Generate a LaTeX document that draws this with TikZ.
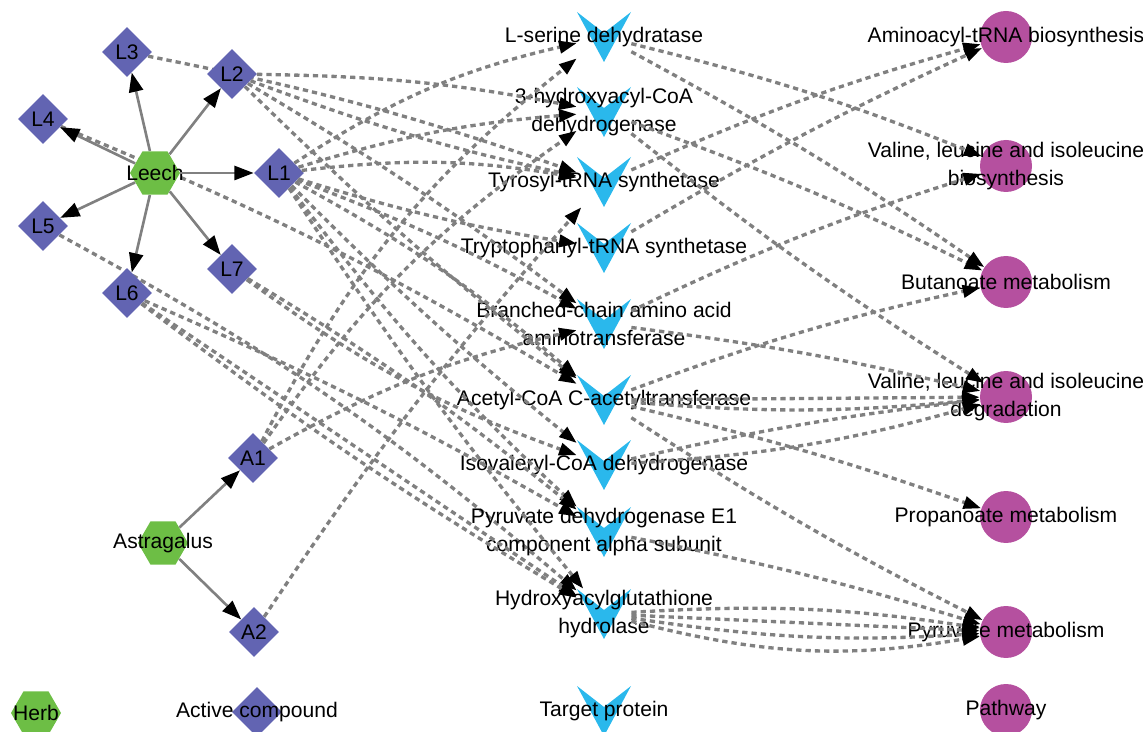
\documentclass[tikz,border=0pt]{standalone}
\usepackage{fontspec}
\setmainfont{Liberation Sans}
\usetikzlibrary{arrows.meta, calc, shapes.geometric, backgrounds}
\definecolor{herbgreen}{HTML}{6DBE45}
\definecolor{cmpblue}{HTML}{6264B2}
\definecolor{tgtcyan}{HTML}{2AB8EC}
\definecolor{pathmag}{HTML}{B5509F}
\definecolor{edgegray}{HTML}{808080}

\begin{document}
\begin{tikzpicture}[x=0.02cm, y=-0.02cm,
    font=\fontsize{12}{16}\selectfont,
    herb/.style={regular polygon, regular polygon sides=6, fill=herbgreen,
                 minimum size=1cm, inner sep=0pt},
    compound/.style={diamond, fill=cmpblue, minimum width=1cm,
                     minimum height=1cm, inner sep=0pt},
    target/.style={rectangle, minimum width=1.08cm, minimum height=1cm,
                   inner sep=0pt,
                   path picture={\fill[tgtcyan] (path picture bounding box.north west)
                     -- ($(path picture bounding box.north)!0.42!(path picture bounding box.south)$)
                     -- (path picture bounding box.north east)
                     -- (path picture bounding box.south) -- cycle;}},
    pathway/.style={circle, fill=pathmag, minimum size=1.04cm, inner sep=0pt},
    has/.style={draw=edgegray, line width=1.5pt,
                -{Triangle[length=11pt,width=8pt,color=black]}},
    hits/.style={draw=edgegray, line width=1.9pt, dash pattern=on 3pt off 2.3pt,
                 -{Triangle[length=10pt,width=7pt,color=black]}}
  ]
  \useasboundingbox (0,0) rectangle (1143,732);

  % herbs
  \node[herb, label=center:Leech] (leech) at (155,173) {};
  \node[herb, label=center:Astragalus] (astra) at (163,543) {};

  % active compounds
  \node[compound] (l1) at (279,173) {L1};
  \node[compound] (l2) at (232,74) {L2};
  \node[compound] (l3) at (127,52) {L3};
  \node[compound] (l4) at (43,119) {L4};
  \node[compound] (l5) at (43,226) {L5};
  \node[compound] (l6) at (127,293) {L6};
  \node[compound] (l7) at (232,269) {L7};
  \node[compound] (a1) at (253,458) {A1};
  \node[compound] (a2) at (254,632) {A2};

  % target proteins
  \node[target, label=center:L-serine dehydratase] (serdh) at (604,37) {};
  \node[target, label={[align=center]center:3-hydroxyacyl-CoA\\dehydrogenase}] (hadh) at (604,112) {};
  \node[target, label=center:Tyrosyl-tRNA synthetase] (tyr) at (604,182) {};
  \node[target, label=center:Tryptophanyl-tRNA synthetase] (trp) at (604,248) {};
  \node[target, label={[align=center]center:Branched-chain amino acid\\aminotransferase}] (bcat) at (604,324) {};
  \node[target, label=center:Acetyl-CoA C-acetyltransferase] (acat) at (604,400) {};
  \node[target, label=center:Isovaleryl-CoA dehydrogenase] (ivd) at (604,465) {};
  \node[target, label={[align=center]center:Pyruvate dehydrogenase E1\\component alpha subunit}] (pdh) at (604,532) {};
  \node[target, label={[align=center]center:Hydroxyacylglutathione\\hydrolase}] (glo2) at (604,614) {};

  % pathways
  \node[pathway, label=center:Aminoacyl-tRNA biosynthesis] (aatrna) at (1006,37) {};
  \node[pathway, label={[align=center]center:{Valine, leucine and isoleucine\\biosynthesis}}] (valbio) at (1006,166) {};
  \node[pathway, label=center:Butanoate metabolism] (buta) at (1006,282) {};
  \node[pathway, label={[align=center]center:{Valine, leucine and isoleucine\\degradation}}] (valdeg) at (1006,397) {};
  \node[pathway, label=center:Propanoate metabolism] (propa) at (1006,517) {};
  \node[pathway, label=center:Pyruvate metabolism] (pyru) at (1006,632) {};

  % legend
  \node[herb, label=center:Herb] (keyherb) at (36,713) {};
  \node[compound, label=center:Active compound] (keycmp) at (257,712) {};
  \node[target, label=center:Target protein] (keytgt) at (604,711) {};
  \node[pathway, label=center:Pathway] (keypath) at (1006,710) {};

  % herb -> compound
  \draw[has] (leech) -- (l1);
  \draw[has] (leech) -- (l2);
  \draw[has] (leech) -- (l3);
  \draw[has] (leech) -- (l4);
  \draw[has] (leech) -- (l5);
  \draw[has] (leech) -- (l6);
  \draw[has] (leech) -- (l7);
  \draw[has] (astra) -- (a1);
  \draw[has] (astra) -- (a2);

  % compound -> target (behind nodes)
  \begin{pgfonlayer}{background}
    \draw[hits] (l3) to[bend left=4] (tyr);
    \draw[hits] (l4) to[bend left=4] (acat);
    \draw[hits] (l5) to[bend left=6] (glo2);
  \end{pgfonlayer}
  \draw[hits] (l1) to[bend left=10] (serdh);
  \draw[hits] (l1) to[bend left=6] (hadh);
  \draw[hits] (l1) to[bend left=8] (tyr);
  \draw[hits] (l1) to[bend right=4] (trp);
  \draw[hits] (l1) to[bend left=4] (bcat);
  \draw[hits] (l1) to[bend left=6] (acat);
  \draw[hits] (l1) to[bend right=3] (ivd);
  \draw[hits] (l1) to[bend right=5] (pdh);
  \draw[hits] (l1) to[bend right=3] (glo2);
  \draw[hits] (l2) to[bend left=5] (hadh);
  \draw[hits] (l2) to[bend right=4] (tyr);
  \draw[hits] (l2) to[bend left=3] (bcat);
  \draw[hits] (l2) to[bend right=3] (acat);
  \draw[hits] (l6) to[bend left=3] (pdh);
  \draw[hits] (l6) -- (glo2);
  \draw[hits] (l6) to[bend right=3] (glo2);
  \draw[hits] (l7) to[bend right=8] (ivd);
  \draw[hits] (l7) to[bend left=4] (pdh);
  \draw[hits] (a1) to[bend left=12] (serdh);
  \draw[hits] (a1) to[bend left=10] (hadh);
  \draw[hits] (a1) to[bend left=8] (bcat);
  \draw[hits] (a2) to[bend left=4] (tyr);

  % target -> pathway
  \draw[hits] (serdh) to[bend left=4] (valbio);
  \draw[hits] (serdh) to[bend left=3] (buta);
  \draw[hits] (hadh) to[bend left=3] (buta);
  \draw[hits] (hadh) to[bend right=3] (valdeg);
  \draw[hits] (tyr) to[bend left=4] (aatrna);
  \draw[hits] (trp) to[bend left=3] (aatrna);
  \draw[hits] (bcat) to[bend left=4] (valbio);
  \draw[hits] (bcat) to[bend left=3] (valdeg);
  \draw[hits] (acat) to[bend left=4] (buta);
  \draw[hits] (acat) -- (valdeg);
  \draw[hits] (acat) to[bend right=5] (valdeg);
  \draw[hits] (acat) to[bend left=3] (propa);
  \draw[hits] (acat) to[bend right=3] (pyru);
  \draw[hits] (ivd) to[bend left=3] (valdeg);
  \draw[hits] (ivd) to[bend right=6] (valdeg);
  \draw[hits] (pdh) to[bend left=3] (pyru);
  \draw[hits] (glo2) to[bend left=6] (pyru);
  \draw[hits] (glo2) -- (pyru);
  \draw[hits] (glo2) to[bend right=6] (pyru);
  \draw[hits] (glo2) to[bend right=12] (pyru);
\end{tikzpicture}
\end{document}
